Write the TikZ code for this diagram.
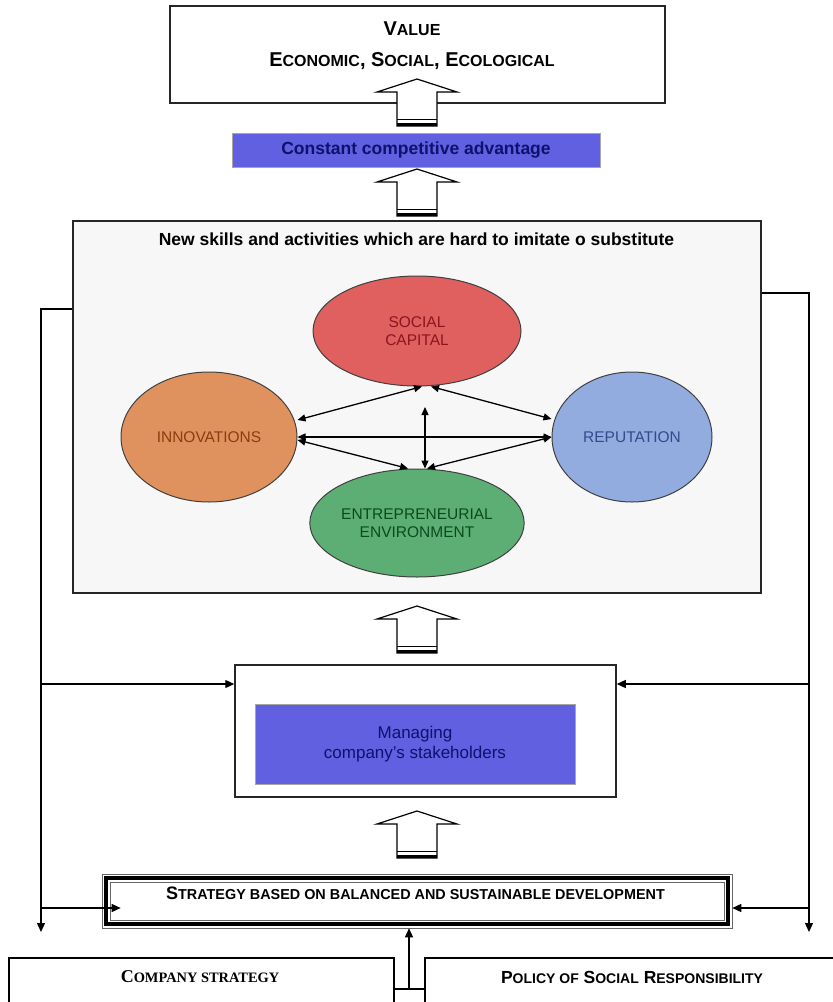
\documentclass[tikz,border=0pt]{standalone}
\usepackage{fontspec}
\setmainfont{Liberation Sans}
\newfontfamily\serifcaps{Liberation Serif}
\usepackage{graphicx}
\usetikzlibrary{shapes.geometric,arrows.meta,positioning,calc}

\definecolor{boxblue}{RGB}{96,96,224}
\definecolor{navytext}{RGB}{16,16,110}
\definecolor{panelgray}{RGB}{247,247,247}
\definecolor{socialred}{RGB}{224,96,96}
\definecolor{socialtext}{RGB}{140,20,30}
\definecolor{innovorange}{RGB}{224,146,94}
\definecolor{innovtext}{RGB}{140,60,15}
\definecolor{repblue}{RGB}{146,172,223}
\definecolor{reptext}{RGB}{50,75,140}
\definecolor{entgreen}{RGB}{93,174,116}
\definecolor{enttext}{RGB}{10,75,30}

% fake small capitals
\newcommand{\sm}[1]{\scalebox{0.8}{#1}}
% hollow upward arrow: x centre, tip y
\newcommand{\hollowup}[2]{%
  \draw[fill=white, line width=1.2pt, line join=miter] (#1,#2) -- (#1+40,#2+13) -- (#1+20,#2+13) -- (#1+20,#2+47) -- (#1-20,#2+47) -- (#1-20,#2+13) -- (#1-40,#2+13) -- cycle;
  \draw[line width=3pt] (#1-20,#2+45) -- (#1+20,#2+45);
  \draw[line width=1.6pt] (#1-20,#2+40.5) -- (#1+20,#2+40.5);}

\begin{document}
\begin{tikzpicture}[x=1pt, y=-1pt,
    box/.style={rectangle, draw=black!85, line width=1.5pt, inner sep=0pt},
    bluebox/.style={rectangle, fill=boxblue, draw=black!35, line width=0.8pt, inner sep=0pt},
    oval/.style={ellipse, draw=black!75, line width=1pt, inner sep=0pt, align=center, font=\fontsize{15.5}{18}\selectfont},
    link/.style={line width=1.3pt, -{Triangle[length=9pt,width=8pt]}},
    both/.style={line width=1.3pt, {Triangle[length=8pt,width=7pt]}-{Triangle[length=8pt,width=7pt]}},
    plain/.style={line width=1.3pt}]

    \useasboundingbox (0,0) rectangle (833,1002);
    \clip (0,0) rectangle (833,1002);

    % value and advantage
    \node[box, minimum width=495pt, minimum height=97pt] (value) at (417.5,54.5) {};
    \node[font=\bfseries\fontsize{20}{31}\selectfont, align=center] (valuetxt) at (412,46) {V\sm{ALUE}\\E\sm{CONOMIC}, S\sm{OCIAL}, E\sm{COLOGICAL}};
    \hollowup{417}{79}
    \node[bluebox, minimum width=368pt, minimum height=34pt, text=navytext, font=\bfseries\fontsize{17.5}{21}\selectfont] (advantage) at (416,150) {Constant competitive advantage};
    \hollowup{417}{169}

    % skills panel
    \node[box, fill=panelgray, minimum width=688pt, minimum height=372pt] (skills) at (417,407) {};
    \node[font=\bfseries\fontsize{17.5}{21}\selectfont] (skillstxt) at (416.5,239) {New skills and activities which are hard to imitate o substitute};

    \node[oval, fill=socialred, text=socialtext, minimum width=208pt, minimum height=110pt] (social) at (417,331) {SOCIAL\\CAPITAL};
    \node[oval, fill=innovorange, text=innovtext, minimum width=176pt, minimum height=130pt] (innov) at (209,437) {INNOVATIONS};
    \node[oval, fill=repblue, text=reptext, minimum width=160pt, minimum height=130pt] (rep) at (632,437) {REPUTATION};
    \node[oval, fill=entgreen, text=enttext, minimum width=208pt, minimum height=108pt] (ent) at (417,523) {ENTREPRENEURIAL\\ENVIRONMENT};

    \coordinate (vtop) at (425,407);
    \draw[both] ([yshift=17pt]innov.east) -- ([xshift=5pt]social.south);
    \draw[both] ([xshift=14pt]social.south) -- ([yshift=18pt]rep.west);
    \draw[both] (innov.east) -- (rep.west);
    \draw[both] ([yshift=-3pt]innov.east) -- ([xshift=-9pt]ent.north);
    \draw[both] (rep.west) -- ([xshift=10pt]ent.north);
    \draw[both] (vtop) -- (vtop |- ent.north);

    % stakeholders
    \hollowup{417}{606}
    \node[box, minimum width=381pt, minimum height=132pt] (manage) at (425.5,731) {};
    \node[bluebox, minimum width=320pt, minimum height=80pt, text=navytext, align=center, font=\fontsize{17}{20}\selectfont] (stake) at (415,744) {Managing\\company's stakeholders};
    \hollowup{417}{811}

    % strategy
    \node[rectangle, draw=black!60, line width=0.6pt, minimum width=630pt, minimum height=54pt, inner sep=0pt] (strat) at (417,901) {};
    \draw[line width=4pt] ([shift={(4pt,-4pt)}]strat.north west) rectangle ([shift={(-4pt,4pt)}]strat.south east);
    \draw[line width=0.6pt, draw=black!60] ([shift={(8.5pt,-8.5pt)}]strat.north west) rectangle ([shift={(-8.5pt,8.5pt)}]strat.south east);
    \node[font=\bfseries\fontsize{18}{21}\selectfont] (strattxt) at (415.5,893) {S\sm{TRATEGY BASED ON BALANCED AND SUSTAINABLE DEVELOPMENT}};

    \node[rectangle, draw, line width=1.5pt, minimum width=385pt, minimum height=120pt, anchor=north west] (company) at (8,957) {};
    \node[font=\serifcaps\bfseries\fontsize{18}{21}\selectfont] (companytxt) at (200,977) {C\sm{OMPANY STRATEGY}};
    \node[rectangle, draw, line width=1.5pt, minimum width=480pt, minimum height=120pt, anchor=north west] (policy) at (424,957) {};
    \node[font=\bfseries\fontsize{17.5}{20}\selectfont] (policytxt) at (632,977) {P\sm{OLICY OF} S\sm{OCIAL} R\sm{ESPONSIBILITY}};

    % feedback lines
    \coordinate (ltop) at (41,309);
    \coordinate (rtop) at (809,293);
    \coordinate (lbot) at (41,932);
    \coordinate (rbot) at (809,932);
    \coordinate (lmid) at (41,684);
    \coordinate (rmid) at (809,684);
    \coordinate (llow) at (41,908);
    \coordinate (rlow) at (809,908);
    \draw[link] (ltop -| skills.west) -- (ltop) -- (lbot);
    \draw[link] (rtop -| skills.east) -- (rtop) -- (rbot);
    \draw[link] (lmid) -- (lmid -| manage.west);
    \draw[link] (rmid) -- (rmid -| manage.east);
    \draw[link] (llow) -- ($(llow -| strat.west)+(19,0)$);
    \draw[link] (rlow) -- (rlow -| strat.east);

    \coordinate (join) at (409,989);
    \draw[plain] (join -| company.east) -- (join -| policy.west);
    \draw[link] (join) -- (join |- strat.south);
\end{tikzpicture}
\end{document}
